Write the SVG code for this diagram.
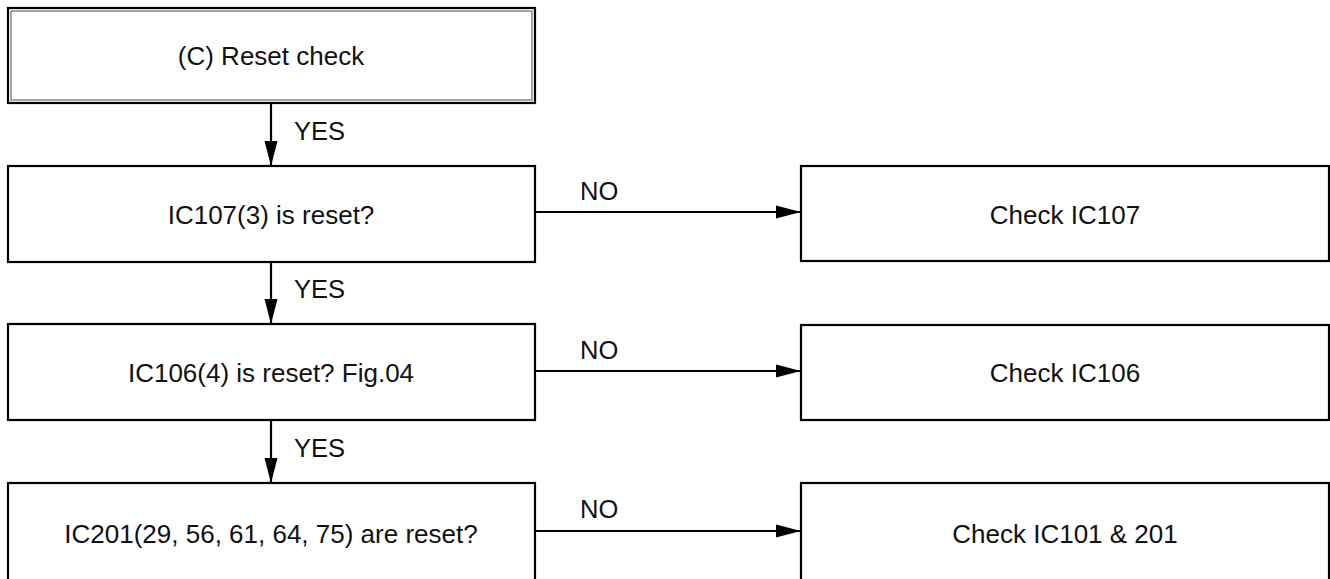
<svg xmlns="http://www.w3.org/2000/svg" width="1330" height="579" viewBox="0 0 1330 579">
<style>
.box{fill:#fff;stroke:#000;stroke-width:2.2}
.t{font-family:"Liberation Sans",Arial,sans-serif;font-size:26px;fill:#111;text-anchor:middle}
.l{font-family:"Liberation Sans",Arial,sans-serif;font-size:25.5px;fill:#111}
.c{stroke:#000;stroke-width:2.2;fill:none}
</style>
<defs>
<marker id="ah" markerWidth="26" markerHeight="14" refX="25" refY="7" orient="auto" markerUnits="userSpaceOnUse">
<path d="M0,0.5 L25,7 L0,13.5 Z" fill="#000"/>
</marker>
</defs>
<rect width="1330" height="579" fill="#fff"/>
<g id="start">
<rect x="8" y="8" width="527" height="95" class="box"/>
<rect x="11" y="11" width="521" height="89" fill="none" stroke="#888" stroke-width="1.5"/>
<text x="271" y="65" class="t">(C) Reset check</text>
</g>
<g id="q1">
<rect x="8" y="166" width="527" height="96" class="box"/>
<text x="271" y="224" class="t">IC107(3) is reset?</text>
</g>
<g id="a1">
<rect x="801" y="166" width="528" height="95" class="box"/>
<text x="1065" y="224" class="t">Check IC107</text>
</g>
<g id="q2">
<rect x="8" y="324" width="527" height="96" class="box"/>
<text x="271" y="382" class="t">IC106(4) is reset? Fig.04</text>
</g>
<g id="a2">
<rect x="801" y="325" width="528" height="95" class="box"/>
<text x="1065" y="382" class="t">Check IC106</text>
</g>
<g id="q3">
<rect x="8" y="483" width="527" height="100" class="box"/>
<text x="271" y="543" class="t">IC201(29, 56, 61, 64, 75) are reset?</text>
</g>
<g id="a3">
<rect x="801" y="483" width="528" height="100" class="box"/>
<text x="1065" y="543" class="t">Check IC101 &amp; 201</text>
</g>
<g id="connectors">
<line x1="271" y1="103" x2="271" y2="166" class="c" marker-end="url(#ah)"/>
<line x1="271" y1="262" x2="271" y2="324" class="c" marker-end="url(#ah)"/>
<line x1="271" y1="420" x2="271" y2="483" class="c" marker-end="url(#ah)"/>
<line x1="535" y1="212" x2="801" y2="212" class="c" marker-end="url(#ah)"/>
<line x1="535" y1="371" x2="801" y2="371" class="c" marker-end="url(#ah)"/>
<line x1="535" y1="531" x2="801" y2="531" class="c" marker-end="url(#ah)"/>
<text x="294" y="140" class="l">YES</text>
<text x="294" y="298" class="l">YES</text>
<text x="294" y="457" class="l">YES</text>
<text x="580" y="200" class="l">NO</text>
<text x="580" y="359" class="l">NO</text>
<text x="580" y="518" class="l">NO</text>
</g>
</svg>
